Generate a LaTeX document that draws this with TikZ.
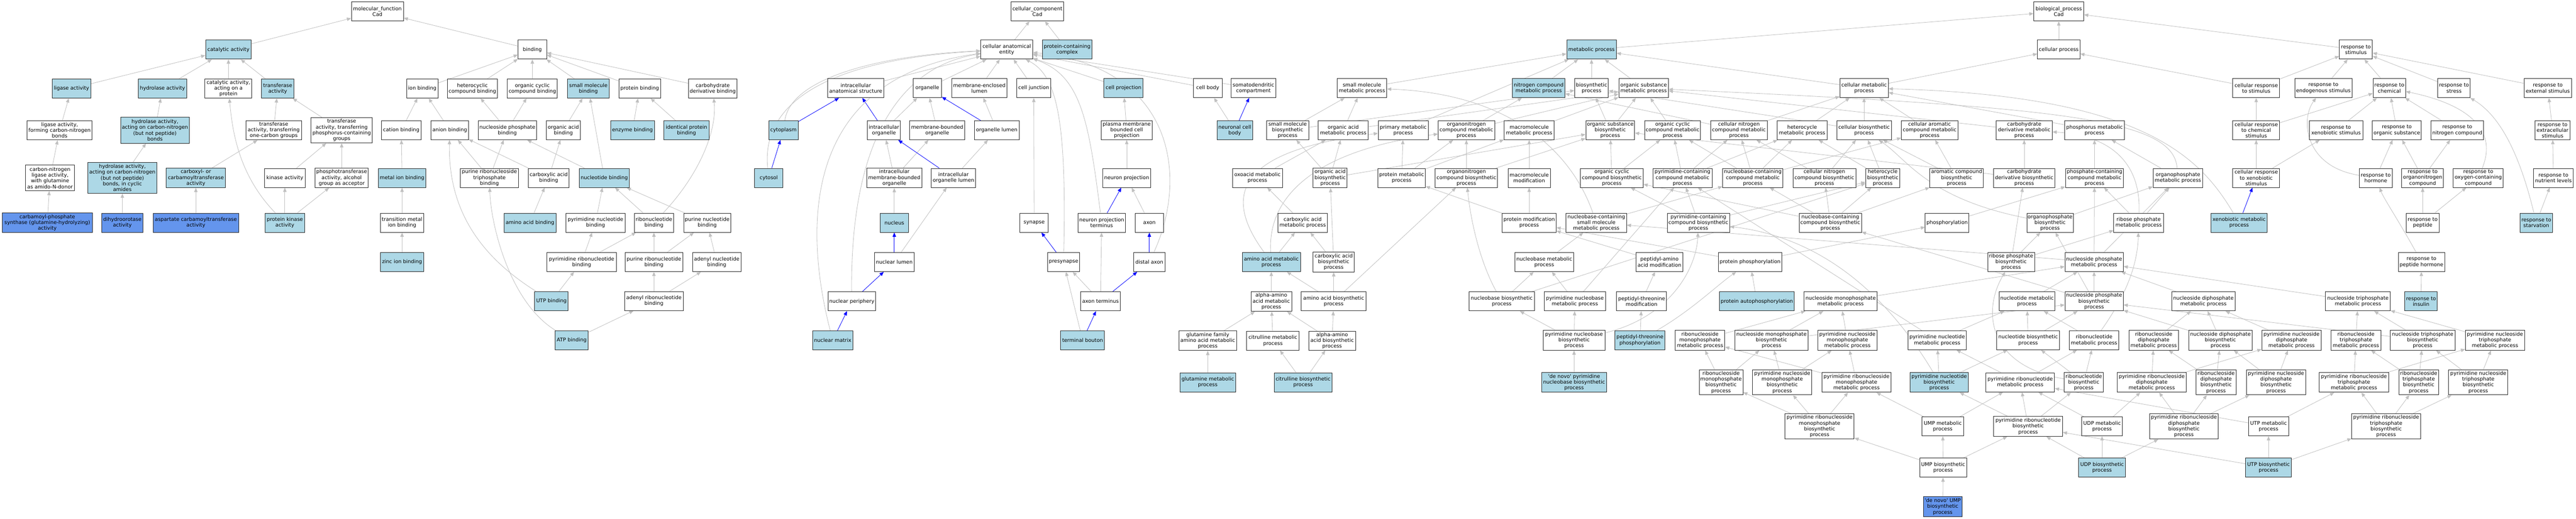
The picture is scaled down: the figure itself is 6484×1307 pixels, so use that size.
\documentclass[tikz,border=0pt]{standalone}
\usepackage{fontspec}
\newfontfamily\gofont{DejaVu Sans}
\usetikzlibrary{arrows.meta}
\pgfdeclarelayer{bgl}\pgfdeclarelayer{edges}\pgfsetlayers{bgl,edges,main}
\definecolor{lbc}{HTML}{ADD8E6}
\definecolor{dbc}{HTML}{6495ED}
\definecolor{egc}{HTML}{C0C0C0}
\tikzset{
 box/.style={draw=black!85, line width=0.9pt, align=center, inner sep=1pt, font=\gofont\fontsize{9.6}{11}\selectfont},
 wb/.style={box, fill=white},
 lbx/.style={box, fill=lbc},
 dbx/.style={box, fill=dbc},
 ge/.style={draw=egc, line width=0.8pt, -{Triangle[length=8pt,width=6.5pt]}},
 be/.style={draw=blue, line width=0.8pt, -{Triangle[length=8pt,width=6.5pt]}},
}
\newcommand\N[7]{\node[#1,minimum width={#5*0.75pt},minimum height={#6*0.75pt}] (#2) at (#3,#4) {#7};}
\begin{document}
\begin{tikzpicture}[x=0.75pt,y=-0.75pt]
\useasboundingbox (0,0) rectangle (6484,1307);
\begin{pgfonlayer}{bgl}\fill[white] (0,0) rectangle (6484,1307);\end{pgfonlayer}
% ---------- molecular function ----------
\N{wb}{mf}{950}{29}{131}{48}{molecular\_function\\Cad}
\N{lbx}{catact}{575}{125}{115}{48}{catalytic activity}
\N{wb}{binding}{1340}{125}{72}{48}{binding}
\N{lbx}{ligase}{180}{223}{98}{48}{ligase activity}
\N{lbx}{hydrolase}{409}{223}{123}{48}{hydrolase activity}
\N{wb}{catprot}{575}{223}{118}{49}{catalytic activity,\\acting on a\\protein}
\N{lbx}{transf}{699}{223}{81}{48}{transferase\\activity}
\N{wb}{ionb}{1063}{223}{79}{48}{ion binding}
\N{wb}{hetb}{1189}{223}{126}{48}{heterocyclic\\compound binding}
\N{wb}{orgcycb}{1340}{223}{126}{48}{organic cyclic\\compound binding}
\N{lbx}{smolb}{1481}{223}{106}{48}{small molecule\\binding}
\N{wb}{protb}{1610}{223}{105}{48}{protein binding}
\N{wb}{carbdb}{1794}{223}{123}{48}{carbohydrate\\derivative binding}
\N{wb}{ligCN}{150}{328}{163}{49}{ligase activity,\\forming carbon-nitrogen\\bonds}
\N{lbx}{hydCN}{390}{328}{173}{65}{hydrolase activity,\\acting on carbon-nitrogen\\(but not peptide)\\bonds}
\N{wb}{trone}{689}{328}{140}{49}{transferase\\activity, transferring\\one-carbon groups}
\N{wb}{trP}{860}{328}{155}{64}{transferase\\activity, transferring\\phosphorus-containing\\groups}
\N{wb}{cationb}{1010}{328}{99}{48}{cation binding}
\N{wb}{anionb}{1132}{328}{94}{48}{anion binding}
\N{wb}{nucphb}{1277}{328}{147}{48}{nucleoside phosphate\\binding}
\N{wb}{orgacb}{1418}{328}{85}{48}{organic acid\\binding}
\N{lbx}{enzb}{1592}{328}{110}{48}{enzyme binding}
\N{lbx}{idpb}{1728}{328}{113}{48}{identical protein\\binding}
\N{wb}{cnlig}{126}{448}{123}{65}{carbon-nitrogen\\ligase activity,\\with glutamine\\as amido-N-donor}
\N{lbx}{hydcyc}{308}{448}{174}{78}{hydrolase activity,\\acting on carbon-nitrogen\\(but not peptide)\\bonds, in cyclic\\amides}
\N{lbx}{carbox}{493}{448}{149}{49}{carboxyl- or\\carbamoyltransferase\\activity}
\N{wb}{kinase}{717}{448}{102}{48}{kinase activity}
\N{wb}{phalc}{860}{448}{134}{49}{phosphotransferase\\activity, alcohol\\group as acceptor}
\N{lbx}{metalb}{1012}{448}{120}{48}{metal ion binding}
\N{wb}{prntpb}{1232}{448}{146}{48}{purine ribonucleoside\\triphosphate\\binding}
\N{wb}{caracb}{1381}{448}{103}{48}{carboxylic acid\\binding}
\N{lbx}{nucb}{1521}{448}{126}{48}{nucleotide binding}
\N{dbx}{cps}{119}{561}{227}{49}{carbamoyl-phosphate\\synthase (glutamine-hydrolyzing)\\activity}
\N{dbx}{dho}{308}{561}{104}{48}{dihydroorotase\\activity}
\N{dbx}{atc}{493}{561}{215}{48}{aspartate carbamoyltransferase\\activity}
\N{lbx}{pkin}{717}{561}{99}{48}{protein kinase\\activity}
\N{wb}{tmib}{1012}{561}{110}{48}{transition metal\\ion binding}
\N{lbx}{aab}{1334}{561}{131}{48}{amino acid binding}
\N{wb}{pynb}{1499}{561}{148}{48}{pyrimidine nucleotide\\binding}
\N{wb}{rnb}{1646}{561}{99}{48}{ribonucleotide\\binding}
\N{wb}{punb}{1780}{561}{118}{48}{purine nucleotide\\binding}
\N{lbx}{zinc}{1012}{660}{108}{48}{zinc ion binding}
\N{wb}{pyrnb}{1464}{660}{174}{48}{pyrimidine ribonucleotide\\binding}
\N{wb}{purnb}{1646}{660}{145}{48}{purine ribonucleotide\\binding}
\N{wb}{adnb}{1804}{660}{122}{48}{adenyl nucleotide\\binding}
\N{lbx}{utpb}{1388}{758}{84}{48}{UTP binding}
\N{wb}{adrnb}{1646}{758}{147}{48}{adenyl ribonucleotide\\binding}
\N{lbx}{atpb}{1439}{857}{83}{48}{ATP binding}
% ---------- cellular component ----------
\N{wb}{cc}{2611}{29}{133}{48}{cellular\_component\\Cad}
\N{wb}{cae}{2534}{125}{131}{48}{cellular anatomical\\entity}
\N{lbx}{pcc}{2686}{125}{125}{48}{protein-containing\\complex}
\N{wb}{ias}{2154}{222}{141}{48}{intracellular\\anatomical structure}
\N{wb}{organelle}{2334}{222}{72}{48}{organelle}
\N{wb}{mel}{2465}{222}{138}{48}{membrane-enclosed\\lumen}
\N{wb}{cj}{2602}{222}{85}{48}{cell junction}
\N{lbx}{cproj}{2828}{222}{99}{48}{cell projection}
\N{wb}{cbody}{3040}{222}{72}{48}{cell body}
\N{wb}{somato}{3155}{222}{113}{48}{somatodendritic\\compartment}
\N{lbx}{cytoplasm}{1972}{328}{74}{48}{cytoplasm}
\N{wb}{intorg}{2225}{328}{83}{48}{intracellular\\organelle}
\N{wb}{mbo}{2359}{328}{139}{48}{membrane-bounded\\organelle}
\N{wb}{orglum}{2509}{328}{112}{48}{organelle lumen}
\N{wb}{pmbcp}{2836}{328}{129}{48}{plasma membrane\\bounded cell\\projection}
\N{lbx}{ncb}{3108}{328}{90}{48}{neuronal cell\\body}
\N{lbx}{cytosol}{1935}{448}{71}{48}{cytosol}
\N{wb}{imbo}{2251}{448}{139}{50}{intracellular\\membrane-bounded\\organelle}
\N{wb}{iol}{2400}{448}{112}{48}{intracellular\\organelle lumen}
\N{wb}{nproj}{2836}{448}{120}{48}{neuron projection}
\N{lbx}{nucleus}{2251}{561}{71}{48}{nucleus}
\N{wb}{synapse}{2603}{561}{71}{48}{synapse}
\N{wb}{npt}{2773}{561}{120}{48}{neuron projection\\terminus}
\N{wb}{axon}{2893}{561}{72}{48}{axon}
\N{wb}{nlumen}{2251}{660}{99}{48}{nuclear lumen}
\N{wb}{presyn}{2677}{660}{81}{48}{presynapse}
\N{wb}{daxon}{2893}{660}{78}{48}{distal axon}
\N{wb}{nper}{2144}{759}{120}{48}{nuclear periphery}
\N{wb}{axterm}{2770}{759}{99}{48}{axon terminus}
\N{lbx}{nmatrix}{2096}{857}{101}{48}{nuclear matrix}
\N{lbx}{tbouton}{2725}{857}{110}{48}{terminal bouton}
% ---------- biological process ----------
\N{wb}{bp}{5182}{29}{126}{48}{biological\_process\\Cad}
\N{lbx}{metab}{4006}{125}{125}{48}{metabolic process}
\N{wb}{cellp}{5182}{125}{107}{48}{cellular process}
\N{wb}{rstim}{5930}{125}{83}{48}{response to\\stimulus}
\N{wb}{smmp}{3428}{222}{125}{48}{small molecule\\metabolic process}
\N{lbx}{ncmp}{3873}{222}{132}{48}{nitrogen compound\\metabolic process}
\N{wb}{biosyn}{4006}{222}{85}{48}{biosynthetic\\process}
\N{wb}{osmp}{4137}{222}{125}{48}{organic substance\\metabolic process}
\N{wb}{cmp}{4692}{222}{122}{48}{cellular metabolic\\process}
\N{wb}{crstim}{5679}{222}{118}{48}{cellular response\\to stimulus}
\N{wb}{rendo}{5848}{222}{144}{48}{response to\\endogenous stimulus}
\N{wb}{rchem}{6014}{222}{82}{48}{response to\\chemical}
\N{wb}{rstress}{6177}{222}{82}{48}{response to\\stress}
\N{wb}{rext}{6413}{222}{120}{48}{response to\\external stimulus}
\N{wb}{smbp}{3241}{328}{106}{48}{small molecule\\biosynthetic\\process}
\N{wb}{oamp}{3381}{328}{126}{48}{organic acid\\metabolic process}
\N{wb}{pmp}{3532}{328}{126}{48}{primary metabolic\\process}
\N{wb}{oncmp}{3691}{328}{142}{48}{organonitrogen\\compound metabolic\\process}
\N{wb}{mmp}{3849}{328}{126}{48}{macromolecule\\metabolic process}
\N{wb}{osbp}{4053}{328}{123}{48}{organic substance\\biosynthetic\\process}
\N{wb}{occmp}{4210}{328}{141}{48}{organic cyclic\\compound metabolic\\process}
\N{wb}{cncmp}{4377}{328}{142}{48}{cellular nitrogen\\compound metabolic\\process}
\N{wb}{hmp}{4536}{328}{126}{48}{heterocycle\\metabolic process}
\N{wb}{cbp}{4692}{328}{138}{48}{cellular biosynthetic\\process}
\N{wb}{cacmp}{4857}{328}{142}{48}{cellular aromatic\\compound metabolic\\process}
\N{wb}{cdmp}{5095}{328}{141}{48}{carbohydrate\\derivative metabolic\\process}
\N{wb}{phmp}{5272}{328}{150}{48}{phosphorus metabolic\\process}
\N{wb}{crchem}{5679}{328}{118}{48}{cellular response\\to chemical\\stimulus}
\N{wb}{rxeno}{5880}{328}{134}{48}{response to\\xenobiotic stimulus}
\N{wb}{rorg}{6033}{328}{123}{48}{response to\\organic substance}
\N{wb}{rnitro}{6185}{328}{132}{48}{response to\\nitrogen compound}
\N{wb}{rextra}{6425}{328}{88}{48}{response to\\extracellular\\stimulus}
\N{wb}{oxmp}{3165}{448}{126}{48}{oxoacid metabolic\\process}
\N{wb}{oabp}{3348}{448}{86}{50}{organic acid\\biosynthetic\\process}
\N{wb}{prmp}{3528}{448}{120}{48}{protein metabolic\\process}
\N{wb}{oncbp}{3691}{448}{157}{48}{organonitrogen\\compound biosynthetic\\process}
\N{wb}{mmod}{3849}{448}{106}{48}{macromolecule\\modification}
\N{wb}{occbp}{4057}{448}{158}{48}{organic cyclic\\compound biosynthetic\\process}
\N{wb}{pccmp}{4235}{448}{149}{48}{pyrimidine-containing\\compound metabolic\\process}
\N{wb}{nccmp}{4412}{448}{152}{48}{nucleobase-containing\\compound metabolic\\process}
\N{wb}{cncbp}{4592}{448}{158}{48}{cellular nitrogen\\compound biosynthetic\\process}
\N{wb}{hbp}{4739}{448}{86}{48}{heterocycle\\biosynthetic\\process}
\N{wb}{acbp}{4925}{448}{135}{48}{aromatic compound\\biosynthetic\\process}
\N{wb}{cdbp}{5095}{448}{155}{48}{carbohydrate\\derivative biosynthetic\\process}
\N{wb}{phcmp}{5272}{448}{146}{48}{phosphate-containing\\compound metabolic\\process}
\N{wb}{opmp}{5482}{448}{125}{48}{organophosphate\\metabolic process}
\N{wb}{crxeno}{5679}{448}{118}{48}{cellular response\\to xenobiotic\\stimulus}
\N{wb}{rhorm}{5980}{448}{82}{48}{response to\\hormone}
\N{wb}{ronc}{6098}{448}{105}{48}{response to\\organonitrogen\\compound}
\N{wb}{roxy}{6238}{448}{126}{48}{response to\\oxygen-containing\\compound}
\N{wb}{rnutr}{6427}{448}{99}{48}{response to\\nutrient levels}
\N{wb}{camp}{3279}{561}{125}{48}{carboxylic acid\\metabolic process}
\N{wb}{pmodp}{3849}{561}{136}{48}{protein modification\\process}
\N{wb}{ncsmmp}{4018}{561}{152}{48}{nucleobase-containing\\small molecule\\metabolic process}
\N{wb}{pccbp}{4275}{561}{157}{48}{pyrimidine-containing\\compound biosynthetic\\process}
\N{wb}{nccbp}{4607}{561}{157}{48}{nucleobase-containing\\compound biosynthetic\\process}
\N{wb}{phos}{4901}{561}{110}{48}{phosphorylation}
\N{wb}{opbp}{5160}{561}{117}{48}{organophosphate\\biosynthetic\\process}
\N{wb}{rpmp}{5383}{561}{125}{48}{ribose phosphate\\metabolic process}
\N{lbx}{xeno}{5636}{561}{142}{48}{xenobiotic metabolic\\process}
\N{wb}{rpep}{6098}{561}{83}{48}{response to\\peptide}
\N{lbx}{rstarv}{6384}{561}{82}{48}{response to\\starvation}
\N{lbx}{aamp}{3200}{660}{147}{48}{amino acid metabolic\\process}
\N{wb}{cabp}{3357}{660}{104}{50}{carboxylic acid\\biosynthetic\\process}
\N{wb}{nbmp}{3887}{660}{149}{48}{nucleobase metabolic\\process}
\N{wb}{pamod}{4177}{660}{118}{48}{peptidyl-amino\\acid modification}
\N{wb}{pphos}{4405}{660}{160}{48}{protein phosphorylation}
\N{wb}{rpbp}{5062}{660}{118}{48}{ribose phosphate\\biosynthetic\\process}
\N{wb}{npmp}{5271}{660}{147}{48}{nucleoside phosphate\\metabolic process}
\N{wb}{rphorm}{6095}{660}{117}{48}{response to\\peptide hormone}
\N{wb}{aaamp}{3200}{759}{102}{50}{alpha-amino\\acid metabolic\\process}
\N{wb}{aabp}{3357}{759}{163}{48}{amino acid biosynthetic\\process}
\N{wb}{nbbp}{3780}{759}{164}{48}{nucleobase biosynthetic\\process}
\N{wb}{pnbmp}{3964}{759}{154}{48}{pyrimidine nucleobase\\metabolic process}
\N{wb}{ptmod}{4132}{759}{126}{48}{peptidyl-threonine\\modification}
\N{lbx}{pauto}{4422}{759}{189}{48}{protein autophosphorylation}
\N{wb}{nmpmp}{4633}{759}{184}{48}{nucleoside monophosphate\\metabolic process}
\N{wb}{ntmp}{5102}{759}{141}{48}{nucleotide metabolic\\process}
\N{wb}{npbp}{5271}{759}{147}{48}{nucleoside phosphate\\biosynthetic\\process}
\N{wb}{ndpmp}{5546}{759}{160}{48}{nucleoside diphosphate\\metabolic process}
\N{wb}{ntpmp}{5935}{759}{163}{48}{nucleoside triphosphate\\metabolic process}
\N{lbx}{rins}{6094}{759}{82}{48}{response to\\insulin}
\N{wb}{gfamp}{3040}{858}{146}{50}{glutamine family\\amino acid metabolic\\process}
\N{wb}{citmp}{3204}{858}{132}{48}{citrulline metabolic\\process}
\N{wb}{aaabp}{3353}{858}{118}{48}{alpha-amino\\acid biosynthetic\\process}
\N{wb}{pnbbp}{3962}{857}{155}{50}{pyrimidine nucleobase\\biosynthetic\\process}
\N{lbx}{ptphos}{4128}{857}{126}{48}{peptidyl-threonine\\phosphorylation}
\N{wb}{rmpmp}{4279}{857}{125}{50}{ribonucleoside\\monophosphate\\metabolic process}
\N{wb}{nmpbp}{4459}{857}{185}{50}{nucleoside monophosphate\\biosynthetic\\process}
\N{wb}{pnmpmp}{4650}{857}{149}{50}{pyrimidine nucleoside\\monophosphate\\metabolic process}
\N{wb}{pntmp}{4876}{857}{146}{48}{pyrimidine nucleotide\\metabolic process}
\N{wb}{ntbp}{5105}{857}{158}{48}{nucleotide biosynthetic\\process}
\N{wb}{rntmp}{5271}{857}{125}{48}{ribonucleotide\\metabolic process}
\N{wb}{rdpmp}{5421}{857}{124}{50}{ribonucleoside\\diphosphate\\metabolic process}
\N{wb}{ndpbp}{5589}{857}{159}{50}{nucleoside diphosphate\\biosynthetic\\process}
\N{wb}{pndpmp}{5768}{857}{150}{50}{pyrimidine nucleoside\\diphosphate\\metabolic process}
\N{wb}{rtpmp}{5930}{857}{125}{50}{ribonucleoside\\triphosphate\\metabolic process}
\N{wb}{ntpbp}{6098}{857}{163}{50}{nucleoside triphosphate\\biosynthetic\\process}
\N{wb}{pntpmp}{6280}{857}{149}{50}{pyrimidine nucleoside\\triphosphate\\metabolic process}
\N{lbx}{glnmp}{3040}{963}{140}{48}{glutamine metabolic\\process}
\N{lbx}{citbp}{3280}{963}{146}{48}{citrulline biosynthetic\\process}
\N{lbx}{dnpnb}{3962}{963}{163}{50}{'de novo' pyrimidine\\nucleobase biosynthetic\\process}
\N{wb}{rmpbp}{4332}{963}{110}{63}{ribonucleoside\\monophosphate\\biosynthetic\\process}
\N{wb}{pnmpbp}{4486}{963}{149}{63}{pyrimidine nucleoside\\monophosphate\\biosynthetic\\process}
\N{wb}{prmpmp}{4673}{963}{174}{50}{pyrimidine ribonucleoside\\monophosphate\\metabolic process}
\N{lbx}{pntbp}{4881}{963}{147}{50}{pyrimidine nucleotide\\biosynthetic\\process}
\N{wb}{prnmp}{5085}{963}{173}{48}{pyrimidine ribonucleotide\\metabolic process}
\N{wb}{rnbp}{5245}{963}{98}{50}{ribonucleotide\\biosynthetic\\process}
\N{wb}{prdpmp}{5416}{963}{174}{50}{pyrimidine ribonucleoside\\diphosphate\\metabolic process}
\N{wb}{rdpbp}{5578}{963}{102}{63}{ribonucleoside\\diphosphate\\biosynthetic\\process}
\N{wb}{pndpbp}{5729}{963}{150}{63}{pyrimidine nucleoside\\diphosphate\\biosynthetic\\process}
\N{wb}{prtpmp}{5925}{963}{174}{50}{pyrimidine ribonucleoside\\triphosphate\\metabolic process}
\N{wb}{rtpbp}{6088}{963}{100}{63}{ribonucleoside\\triphosphate\\biosynthetic\\process}
\N{wb}{pntpbp}{6238}{963}{149}{63}{pyrimidine nucleoside\\triphosphate\\biosynthetic\\process}
\N{wb}{prmpbp}{4580}{1074}{174}{64}{pyrimidine ribonucleoside\\monophosphate\\biosynthetic\\process}
\N{wb}{umpmp}{4890}{1074}{104}{48}{UMP metabolic\\process}
\N{wb}{prnbp}{5105}{1074}{173}{50}{pyrimidine ribonucleotide\\biosynthetic\\process}
\N{wb}{udpmp}{5291}{1074}{103}{48}{UDP metabolic\\process}
\N{wb}{prdpbp}{5497}{1074}{173}{64}{pyrimidine ribonucleoside\\diphosphate\\biosynthetic\\process}
\N{wb}{utpmp}{5710}{1074}{101}{48}{UTP metabolic\\process}
\N{wb}{prtpbp}{6006}{1074}{173}{64}{pyrimidine ribonucleoside\\triphosphate\\biosynthetic\\process}
\N{wb}{umpbp}{4891}{1178}{118}{48}{UMP biosynthetic\\process}
\N{lbx}{udpbp}{5291}{1178}{118}{48}{UDP biosynthetic\\process}
\N{lbx}{utpbp}{5710}{1178}{115}{48}{UTP biosynthetic\\process}
\N{dbx}{dnump}{4890}{1276}{98}{50}{'de novo' UMP\\biosynthetic\\process}
% ---------- edges ----------
\begin{pgfonlayer}{edges}
\foreach \a/\b in {catact/mf,binding/mf,ligase/catact,hydrolase/catact,catprot/catact,transf/catact,
 ligCN/ligase,hydCN/hydrolase,cnlig/ligCN,hydcyc/hydCN,cps/cnlig,dho/hydcyc,carbox/trone,atc/carbox,
 trone/transf,trP/transf,kinase/trP,phalc/trP,pkin/kinase,pkin/phalc,ionb/binding,cationb/ionb,anionb/ionb,
 metalb/cationb,tmib/metalb,zinc/tmib,hetb/binding,orgcycb/binding,smolb/binding,protb/binding,carbdb/binding,
 nucphb/hetb,nucphb/orgcycb,orgacb/smolb,enzb/protb,idpb/protb,prntpb/anionb,prntpb/nucphb,caracb/anionb,
 caracb/orgacb,nucb/nucphb,nucb/smolb,aab/caracb,pynb/nucb,rnb/nucb,punb/nucb,pyrnb/pynb,pyrnb/rnb,
 purnb/rnb,purnb/punb,adnb/punb,utpb/pyrnb,adrnb/purnb,adrnb/adnb,atpb/adrnb}
  \draw[ge] (\a) -- (\b);
\draw[ge] (pkin) .. controls (600,440) and (585,330) .. (catprot);
\draw[ge] (utpb) .. controls (1200,640) and (1128,520) .. (anionb);
\draw[ge] (atpb) .. controls (1280,760) and (1235,560) .. (prntpb);
\draw[ge] (rnb) .. controls (1760,440) and (1805,330) .. (carbdb);
% CC
\foreach \a/\b in {cae/cc,pcc/cc,ias/cae,organelle/cae,mel/cae,cj/cae,cproj/cae,cbody/cae,somato/cae,
 intorg/organelle,mbo/organelle,orglum/mel,imbo/intorg,imbo/mbo,iol/orglum,nucleus/imbo,nlumen/iol,
 synapse/cj,pmbcp/cproj,nproj/pmbcp,axon/nproj,axterm/presyn,axterm/npt,tbouton/presyn,ncb/cbody}
  \draw[ge] (\a) -- (\b);
\foreach \a/\b in {cytoplasm/ias,intorg/ias,orglum/organelle,iol/intorg,nlumen/nucleus,nper/nlumen,
 nmatrix/nper,cytosol/cytoplasm,presyn/synapse,npt/nproj,daxon/axon,axterm/daxon,tbouton/axterm,ncb/somato}
  \draw[be] (\a) -- (\b);
\draw[ge] (cytoplasm) .. controls (1990,200) and (2200,140) .. (cae);
\draw[ge] (cytosol) .. controls (1915,260) and (2080,150) .. (cae);
\draw[ge] (nmatrix) .. controls (2030,600) and (2000,200) .. (cae);
\draw[ge] (nper) .. controls (2140,380) and (2250,170) .. (cae);
\draw[ge] (presyn) .. controls (2685,300) and (2660,190) .. (cae);
\draw[ge] (npt) .. controls (2740,300) and (2720,190) .. (cae);
\draw[ge] (daxon) .. controls (2990,450) and (2960,170) .. (cae);
% BP
\foreach \a/\b in {metab/bp,cellp/bp,rstim/bp,ncmp/metab,biosyn/metab,osmp/metab,smmp/metab,pmp/metab,cmp/metab,
 cmp/cellp,crstim/cellp,crstim/rstim,rendo/rstim,rchem/rstim,rstress/rstim,rext/rstim,
 smbp/smmp,smbp/biosyn,oamp/smmp,oamp/osmp,oncmp/ncmp,oncmp/osmp,mmp/osmp,osbp/biosyn,osbp/osmp,occmp/osmp,
 cncmp/ncmp,cncmp/cmp,hmp/cmp,cbp/cmp,cbp/biosyn,cacmp/cmp,cdmp/osmp,phmp/cmp,crchem/crstim,crchem/rchem,
 rxeno/rchem,rorg/rchem,rnitro/rchem,rextra/rext,oxmp/oamp,oabp/oamp,oabp/smbp,oabp/osbp,prmp/pmp,prmp/mmp,
 prmp/oncmp,oncbp/oncmp,oncbp/osbp,mmod/mmp,occbp/occmp,occbp/osbp,pccmp/occmp,pccmp/cncmp,pccmp/hmp,
 nccmp/occmp,nccmp/cncmp,nccmp/hmp,nccmp/cacmp,cncbp/cncmp,cncbp/cbp,hbp/hmp,hbp/cbp,acbp/cacmp,acbp/cbp,
 cdbp/cdmp,cdbp/osbp,phcmp/phmp,opmp/phmp,crxeno/crchem,crxeno/rxeno,rhorm/rorg,ronc/rorg,ronc/rnitro,
 rnutr/rextra,camp/oxmp,pmodp/mmod,pmodp/prmp,ncsmmp/nccmp,pccbp/pccmp,pccbp/occbp,pccbp/hbp,
 nccbp/nccmp,nccbp/cncbp,nccbp/hbp,nccbp/acbp,nccbp/occbp,phos/phcmp,opbp/opmp,rpmp/phcmp,rpmp/opmp,
 rpep/ronc,rpep/roxy,rstarv/rnutr,aamp/camp,cabp/camp,cabp/oabp,nbmp/ncsmmp,pamod/pmodp,pphos/pmodp,
 pphos/phos,rpbp/rpmp,rpbp/opbp,rpbp/cdbp,npmp/phcmp,npmp/opmp,npmp/ncsmmp,rins/rphorm,aaamp/aamp,
 aabp/aamp,aabp/cabp,aabp/oncbp,nbbp/nbmp,nbbp/hbp,pnbmp/nbmp,pnbmp/pccmp,ptmod/pamod,pauto/pphos,
 nmpmp/npmp,ntmp/npmp,npbp/npmp,npbp/nccbp,npbp/opbp,ndpmp/npmp,ntpmp/npmp,gfamp/aaamp,citmp/aaamp,
 aaabp/aaamp,aaabp/aabp,pnbbp/nbbp,pnbbp/pnbmp,ptphos/ptmod,rmpmp/nmpmp,nmpbp/nmpmp,nmpbp/npbp,
 pnmpmp/nmpmp,pntmp/ntmp,pntmp/pccmp,ntbp/ntmp,ntbp/npbp,rntmp/ntmp,rdpmp/ndpmp,ndpbp/ndpmp,ndpbp/npbp,
 pndpmp/ndpmp,rtpmp/ntpmp,ntpbp/ntpmp,ntpbp/npbp,pntpmp/ntpmp,glnmp/gfamp,citbp/citmp,citbp/aaabp,
 dnpnb/pnbbp,rmpbp/rmpmp,rmpbp/nmpbp,pnmpbp/nmpbp,pnmpbp/pnmpmp,prmpmp/pnmpmp,prmpmp/rmpmp,
 pntbp/pntmp,pntbp/ntbp,prnmp/pntmp,prnmp/rntmp,rnbp/rntmp,rnbp/ntbp,prdpmp/rdpmp,prdpmp/pndpmp,
 rdpbp/rdpmp,rdpbp/ndpbp,pndpbp/pndpmp,pndpbp/ndpbp,prtpmp/rtpmp,prtpmp/pntpmp,rtpbp/rtpmp,rtpbp/ntpbp,
 pntpbp/ntpbp,pntpbp/pntpmp,prmpbp/pnmpbp,prmpbp/prmpmp,prmpbp/rmpbp,umpmp/prmpmp,umpmp/prnmp,
 prnbp/pntbp,prnbp/prnmp,prnbp/rnbp,udpmp/prdpmp,udpmp/prnmp,prdpbp/prdpmp,prdpbp/rdpbp,prdpbp/pndpbp,
 utpmp/prtpmp,utpmp/prnmp,prtpbp/prtpmp,prtpbp/rtpbp,prtpbp/pntpbp,umpbp/umpmp,umpbp/prmpbp,umpbp/prnbp,
 udpbp/udpmp,udpbp/prnbp,udpbp/prdpbp,utpbp/utpmp,utpbp/prtpbp,utpbp/prnbp,dnump/umpbp}
  \draw[ge] (\a) -- (\b);
\draw[be] (xeno) -- (crxeno);
\draw[ge] (ncsmmp) .. controls (3955,380) and (3800,235) .. (smmp);
\draw[ge] (xeno) .. controls (5540,400) and (5400,240) .. (cmp);
\draw[ge] (rhorm) .. controls (5800,420) and (5790,300) .. (rendo);
\draw[ge] (roxy) .. controls (6290,320) and (6200,260) .. (rchem);
\draw[ge] (rstarv) .. controls (6340,380) and (6290,290) .. (rstress);
\draw[ge] (rphorm) .. controls (6040,560) and (6000,500) .. (rhorm);
\draw[ge] (rntmp) .. controls (5340,760) and (5380,680) .. (rpmp);
\draw[ge] (rnbp) .. controls (5000,920) and (4990,780) .. (rpbp);
\draw[ge] (pntbp) .. controls (4760,760) and (4600,600) .. (pccbp);
\draw[ge] (pnbbp) .. controls (4200,800) and (4270,680) .. (pccbp);
\draw[ge] (ptphos) .. controls (4260,780) and (4320,720) .. (pphos);
\draw[ge] (opbp) .. controls (4850,500) and (4800,400) .. (cbp);
\draw[ge] (rpmp) .. controls (5390,400) and (5300,340) .. (cdmp);
\draw[ge] (opmp) .. controls (5470,300) and (5200,270) .. (osmp);
\draw[ge] (aamp) .. controls (3060,470) and (3150,375) .. (pmp);
\draw[ge] (aamp) .. controls (3190,500) and (3300,380) .. (oncmp);
\draw[ge] (nbbp) .. controls (3720,650) and (3700,540) .. (oncbp);
\end{pgfonlayer}
\end{tikzpicture}
\end{document}
